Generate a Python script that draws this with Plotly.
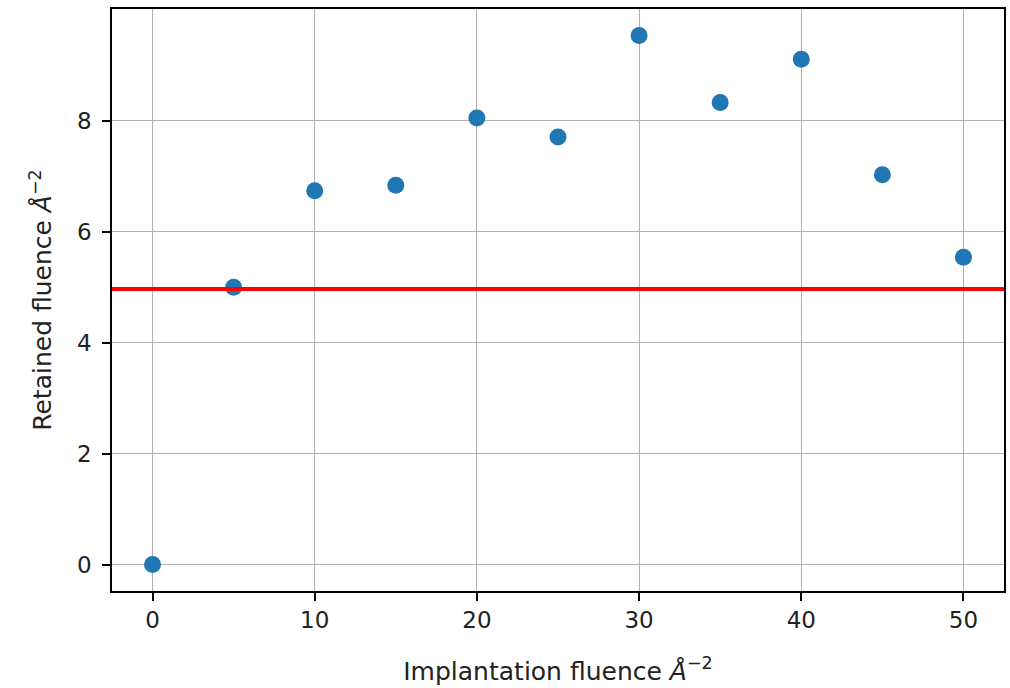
import plotly.graph_objects as go

implant = [0, 5, 10, 15, 20, 25, 30, 35, 40, 45, 50]
retained = [0.0, 5.0, 6.74, 6.84, 8.05, 7.71, 9.54, 8.33, 9.11, 7.03, 5.54]
threshold = 4.97

xticks = [0, 10, 20, 30, 40, 50]
yticks = [0, 2, 4, 6, 8]

xmin, xmax = min(implant), max(implant)
ymin, ymax = min(retained), max(retained)
xpad = (xmax - xmin) * 0.05
ypad = (ymax - ymin) * 0.05

fig = go.Figure()
fig.add_trace(go.Scatter(
    x=implant, y=retained, mode="markers",
    marker=dict(color="#1f77b4", size=17, line=dict(width=0)),
    showlegend=False,
))
fig.add_shape(type="line", xref="paper", yref="y", x0=0, x1=1,
              y0=threshold, y1=threshold, line=dict(color="red", width=4))

tick_font = dict(family="DejaVu Sans", size=23, color="#222222")
title_font = dict(family="DejaVu Sans", size=25, color="#222222")
axis_common = dict(
    showline=True, mirror=True, linecolor="black", linewidth=1.5,
    ticks="outside", ticklen=8, tickwidth=1.5, tickcolor="black",
    showgrid=True, gridcolor="#b0b0b0", gridwidth=1.3,
    zeroline=False, tickfont=tick_font,
)
fig.update_xaxes(range=[xmin - xpad, xmax + xpad], tickvals=xticks,
                 ticktext=[str(v) for v in xticks],
                 title=dict(text="Implantation fluence <i>Å</i><sup>−2</sup>", font=title_font, standoff=30),
                 **axis_common)
fig.update_yaxes(range=[ymin - ypad, ymax + ypad], tickvals=yticks,
                 ticktext=[str(v) for v in yticks],
                 ticklabelstandoff=6,
                 title=dict(text="Retained fluence <i>Å</i><sup>−2</sup>", font=title_font, standoff=18),
                 **axis_common)
fig.update_layout(
    width=1010, height=688,
    margin=dict(l=112, r=6, t=9, b=97, autoexpand=False),
    paper_bgcolor="white", plot_bgcolor="white",
    font=tick_font,
)
fig.write_html("out.html")
